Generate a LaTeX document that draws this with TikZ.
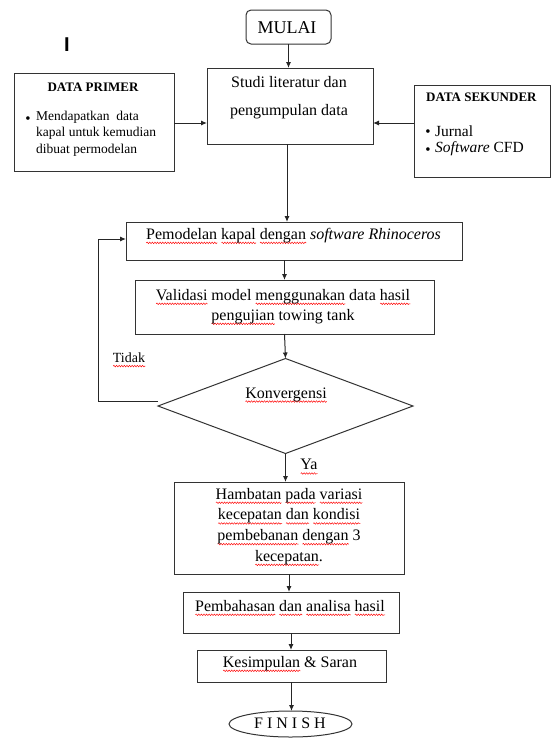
\documentclass[tikz,border=0pt]{standalone}
\usepackage{fontspec}
\setmainfont{Liberation Serif}
\setsansfont{Liberation Sans}
\usetikzlibrary{arrows.meta,shapes.geometric,calc,decorations.pathmorphing}
\newsavebox\sqbox
\newdimen\sqw
\newcommand\sq[1]{\begingroup\sbox\sqbox{#1}\sqw=\wd\sqbox
  \rlap{\raisebox{-3.5pt}{\tikz[x=1pt,y=1pt,baseline=0pt]\draw[red,line width=0.45pt,decorate,decoration={snake,amplitude=0.8pt,segment length=2.6pt}] (0,0)--(\the\sqw,0);}}\usebox\sqbox\endgroup}
\begin{document}
\begin{tikzpicture}[x=1pt,y=-1pt,
  box/.style={draw=black!80, line width=1pt, inner sep=0pt, outer sep=0pt},
  txt/.style={inner sep=0pt, font=\fontsize{16}{21}\selectfont, align=center},
  arr/.style={draw=black!85, line width=1pt, -{Latex[length=6pt,width=5pt]}},
  bul/.style={inner sep=0pt, font=\fontsize{15}{15}\selectfont}
]
\useasboundingbox (0,0) rectangle (551,740);

% stray mark
\node[inner sep=0pt, font=\sffamily\bfseries\fontsize{20}{20}\selectfont] (mark) at (67,44.5) {I};

% start
\node[box, rounded corners=5pt, minimum width=85pt, minimum height=34pt] (mulai) at (288.5,27) {};
\node[txt, font=\fontsize{18}{22}\selectfont] (tmulai) at (287,28) {MULAI};

% studi literatur
\node[box, minimum width=166pt, minimum height=76pt] (studi) at (290,106) {};
\node[txt, font=\fontsize{16}{28}\selectfont] (tstudi) at (289,98) {Studi literatur dan\\pengumpulan data};

% data primer
\node[box, minimum width=160pt, minimum height=98pt] (primer) at (94,122) {};
\node[txt, font=\bfseries\fontsize{13}{16}\selectfont] (tprimer) at (93,87) {DATA PRIMER};
\node[bul] (bp) at (28,120) {•};
\node[txt, anchor=west, align=left, font=\fontsize{13.5}{16.5}\selectfont] (tprimer2) at (36,133.5) {Mendapatkan\ \ data\\kapal untuk kemudian\\dibuat permodelan};

% data sekunder
\node[box, minimum width=136pt, minimum height=92pt] (sekunder) at (482,131) {};
\node[txt, anchor=west, font=\bfseries\fontsize{13}{16}\selectfont] (tsek) at (426,97) {DATA SEKUNDER};
\node[bul] (bs1) at (428,133.5) {•};
\node[bul] (bs2) at (428,151.5) {•};
\node[txt, anchor=west, font=\fontsize{15.5}{18}\selectfont] (tsek1) at (435,131) {Jurnal};
\node[txt, anchor=west, font=\fontsize{15.5}{18}\selectfont] (tsek2) at (435,149) {\textit{Software} CFD};

% pemodelan
\node[box, minimum width=336pt, minimum height=38pt] (pemodelan) at (294,241) {};
\node[txt] (tpem) at (293.5,236) {\sq{Pemodelan} \sq{kapal} \sq{dengan} \textit{software Rhinoceros}};

% validasi
\node[box, minimum width=299pt, minimum height=54pt] (validasi) at (284.5,307) {};
\node[txt, font=\fontsize{16}{20}\selectfont] (tval) at (283,307) {\sq{Validasi} model \sq{menggunakan} data \sq{hasil}\\\sq{pengujian} towing tank};

% decision
\node[draw=black!80, line width=1pt, diamond, minimum width=255pt, minimum height=95pt, inner sep=0pt, outer sep=0pt] (dia) at (285.5,406) {};
\node[txt] (tdia) at (286,395) {\sq{Konvergensi}};
\node[txt, font=\fontsize{14}{16}\selectfont] (ttidak) at (129,360) {\sq{Tidak}};
\node[txt] (tya) at (309,467) {\sq{Ya}};

% hambatan
\node[box, minimum width=230pt, minimum height=92pt] (hambatan) at (289,528) {};
\node[txt, font=\fontsize{16}{20.7}\selectfont] (tham) at (289,527) {\sq{Hambatan} \sq{pada} \sq{variasi}\\\sq{kecepatan} \sq{dan} \sq{kondisi}\\\sq{pembebanan} \sq{dengan} 3\\\sq{kecepatan}.};

% pembahasan
\node[box, minimum width=216pt, minimum height=41pt] (pembahasan) at (291,612.5) {};
\node[txt] (tpemb) at (290,608) {\sq{Pembahasan} \sq{dan} \sq{analisa} \sq{hasil}};

% kesimpulan
\node[box, minimum width=189pt, minimum height=32pt] (kesimpulan) at (291.5,666) {};
\node[txt] (tkes) at (290,664) {\sq{Kesimpulan} \& Saran};

% finish
\node[draw=black!80, line width=1pt, ellipse, minimum width=123pt, minimum height=26pt, inner sep=0pt, outer sep=0pt] (finish) at (290.5,724) {};
\node[txt] (tfin) at (290,723) {F I N I S H};

% connectors
\coordinate (yl) at (0,123);
\coordinate (fbl) at (98,401);
\coordinate (fbt) at (98,239);
\draw[arr] (mulai.south) -- (mulai.south |- studi.north);
\draw[arr] (primer.east |- yl) -- (studi.west |- yl);
\draw[arr] (sekunder.west |- yl) -- (studi.east |- yl);
\draw[arr] ($(studi.south)+(-3,0)$) -- ($(studi.south |- pemodelan.north)+(-3,0)$);
\draw[arr] (validasi.north |- pemodelan.south) -- (validasi.north);
\draw[arr] (validasi.south) -- (dia.north);
\draw[arr] (dia.south) -- (dia.south |- hambatan.north);
\draw[arr] (hambatan.south) -- (hambatan.south |- pembahasan.north);
\draw[arr] (pembahasan.south) -- (pembahasan.south |- kesimpulan.north);
\draw[arr] (kesimpulan.south) -- (kesimpulan.south |- finish.north);
\draw[arr] (dia.west |- fbl) -- (fbl) -- (fbt) -- (pemodelan.west |- fbt);
\end{tikzpicture}
\end{document}
